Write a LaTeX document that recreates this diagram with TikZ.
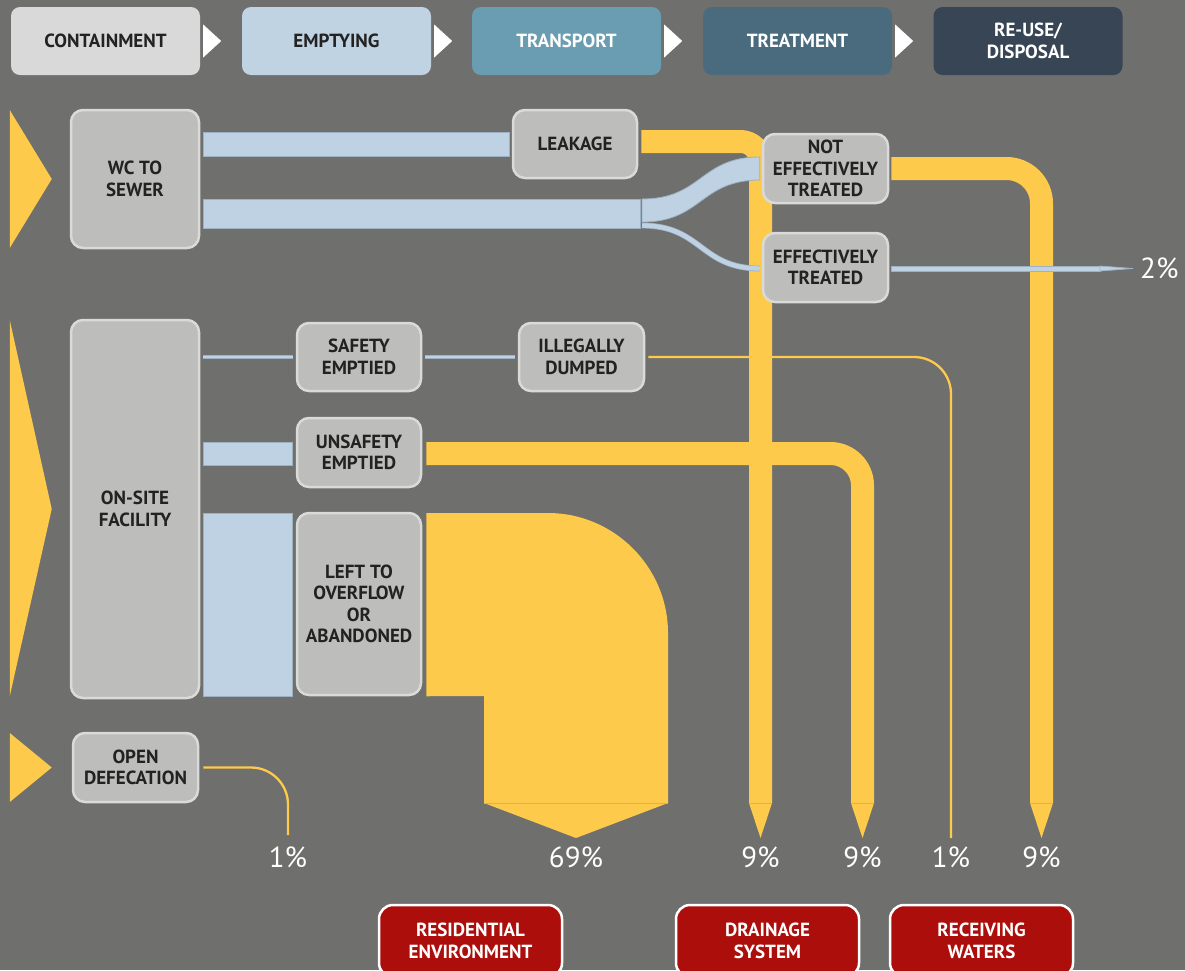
\documentclass[tikz,border=0pt]{standalone}
\usepackage{fontspec}
\setmainfont{PT Sans}
\usetikzlibrary{calc}
\definecolor{bg}{HTML}{6F6F6D}
\definecolor{boxfill}{HTML}{BDBDBB}
\definecolor{boxline}{HTML}{DADAD8}
\definecolor{txt}{HTML}{222222}
\definecolor{yel}{HTML}{FDCA4B}
\definecolor{yeldark}{HTML}{E3B340}
\definecolor{blu}{HTML}{BED2E3}
\definecolor{bluline}{HTML}{9DB1C2}
\definecolor{sinkred}{HTML}{AC0F0B}
\definecolor{hA}{HTML}{D9D9D9}
\definecolor{hB}{HTML}{BFD3E3}
\definecolor{hC}{HTML}{6A9DB1}
\definecolor{hD}{HTML}{4A6B7D}
\definecolor{hE}{HTML}{374554}
\newcommand\lbl{\fontsize{19}{21.5}\selectfont\bfseries}
\newcommand\pctf{\fontsize{29}{32}\selectfont}
\newcommand\flowhead[2]{%
  \fill[yel] ($(#1)+(-#2,0)$) -- ($(#1)+(#2,0)$) -- ($(#1)+(0,35)$) -- cycle;
  \draw[yeldark, line width=0.6pt] ($(#1)+(-#2,0)$) -- ($(#1)+(#2,0)$);}
\pgfdeclarelayer{bglayer}
\pgfdeclarelayer{flows}
\pgfsetlayers{bglayer,flows,main}
\begin{document}
\begin{tikzpicture}[x=1pt,y=-1pt,
  box/.style={draw=boxline, fill=boxfill, line width=2.5pt, rounded corners=12pt, align=center, text=txt, font=\lbl, inner sep=0pt},
  hdr/.style={rounded corners=9pt, minimum width=189pt, minimum height=68pt, align=center, font=\lbl, inner sep=0pt},
  sinkbox/.style={draw=white, fill=sinkred, line width=2.5pt, rounded corners=14pt, minimum width=183pt, minimum height=72pt, align=center, text=white, font=\lbl, inner sep=0pt},
  pct/.style={text=white, font=\pctf, inner sep=0pt},
  yband/.style={draw=yel, line width=23pt},
  ythin/.style={draw=yel, line width=2.3pt},
  bfill/.style={fill=blu, draw=bluline, line width=0.8pt},
]
\useasboundingbox (0,0) rectangle (1185,970);
\begin{pgfonlayer}{bglayer}
  \fill[bg] (0,0) rectangle (1185,970);
\end{pgfonlayer}
\begin{scope}
\clip (0,0) rectangle (1185,970);

% ---------- header ----------
\node[hdr, fill=hA, text=txt]   (h1) at (105.5,41) {CONTAINMENT};
\node[hdr, fill=hB, text=txt]   (h2) at (336.5,41) {EMPTYING};
\node[hdr, fill=hC, text=white] (h3) at (566.5,41) {TRANSPORT};
\node[hdr, fill=hD, text=white] (h4) at (797.5,41) {TREATMENT};
\node[hdr, fill=hE, text=white] (h5) at (1028,41) {RE-USE/\\DISPOSAL};
\foreach \h in {h1,h2,h3,h4}{
  \fill[white] ($(\h.east)+(3,-16.5)$) -- ($(\h.east)+(21,0)$) -- ($(\h.east)+(3,16.5)$) -- cycle;
}

% ---------- nodes ----------
\node[box, minimum width=128pt, minimum height=138pt] (wc) at (135,179) {WC TO\\SEWER};
\node[box, minimum width=128pt, minimum height=378pt] (onsite) at (135,509) {ON-SITE\\FACILITY};
\node[box, minimum width=125pt, minimum height=69pt] (open) at (135.5,767.5) {OPEN\\DEFECATION};
\node[box, minimum width=124pt, minimum height=68pt] (leak) at (575,144) {LEAKAGE};
\node[box, minimum width=125pt, minimum height=69pt] (notet) at (825.5,168.5) {NOT\\EFFECTIVELY\\TREATED};
\node[box, minimum width=125pt, minimum height=69pt] (et) at (825.5,267.5) {EFFECTIVELY\\TREATED};
\node[box, minimum width=124pt, minimum height=68pt] (safe) at (359,357) {SAFETY\\EMPTIED};
\node[box, minimum width=125pt, minimum height=68pt] (illeg) at (581.5,357) {ILLEGALLY\\DUMPED};
\node[box, minimum width=124pt, minimum height=69pt] (unsafe) at (359,452.5) {UNSAFETY\\EMPTIED};
\node[box, minimum width=124pt, minimum height=182pt] (left) at (359,604) {LEFT TO\\OVERFLOW\\OR\\ABANDONED};

% ---------- sinks ----------
\node[sinkbox] (res) at (470.5,941) {RESIDENTIAL\\ENVIRONMENT};
\node[sinkbox] (drain) at (767.5,941) {DRAINAGE\\SYSTEM};
\node[sinkbox] (recv) at (981.5,941) {RECEIVING\\WATERS};

% ---------- flow end points ----------
\coordinate (d0) at (288,835);
\coordinate (d1) at (760.5,803);
\coordinate (d2) at (862.5,803);
\coordinate (d3) at (951,838);
\coordinate (d4) at (1041.5,803);
\coordinate (d5) at (576,838);
\coordinate (tip2) at (1133,268.5);

% ---------- percentages ----------
\node[pct] (p0) at (288,857) {1\%};
\node[pct] (p5) at (576,857) {69\%};
\node[pct] (p1) at (760.5,857) {9\%};
\node[pct] (p2) at (862.5,857) {9\%};
\node[pct] (p3) at (951,857) {1\%};
\node[pct] (p4) at (1041.5,857) {9\%};
\node[pct, anchor=west] (p6) at (1140,268.5) {2\%};

\begin{pgfonlayer}{flows}
  % left input triangles
  \fill[yel] ($(wc.north west)+(-60,1.25)$) -- ($(wc.west)+(-18,0)$) -- ($(wc.south west)+(-60,-1.25)$) -- cycle;
  \fill[yel] ($(onsite.north west)+(-60,1.25)$) -- ($(onsite.west)+(-18,0)$) -- ($(onsite.south west)+(-60,-3)$) -- cycle;
  \fill[yel] ($(open.north west)+(-62,1.25)$) -- ($(open.west)+(-20,0)$) -- ($(open.south west)+(-62,-1.25)$) -- cycle;

  % ----- yellow flows -----
  \draw[yband, rounded corners=20pt] ($(leak.east)+(3,-2.5)$) -| (d1);
  \flowhead{d1}{11.5}
  \draw[yband, rounded corners=35pt] ($(notet.east)+(2,0)$) -| (d4);
  \flowhead{d4}{11.5}
  \draw[yband, rounded corners=32pt] ($(unsafe.east)+(4,1)$) -| (d2);
  \flowhead{d2}{11.5}
  \draw[ythin, rounded corners=37pt] ($(illeg.east)+(3,0)$) -| (d3);
  \draw[ythin, rounded corners=37pt] ($(open.east)+(4,0)$) -| (d0);
  \fill[yel] ($(left.north east)+(4,1.25)$) -- (548,513) .. controls (614,513) and (668,567) .. (668,633)
     -- (668,803) -- (d5) -- (484,803) -- (484,696) -- ($(left.south east)+(4,0)$) -- cycle;
  \draw[yeldark, line width=0.6pt] (484,803) -- (668,803);

  % ----- blue flows -----
  \filldraw[bfill] ($(wc.east)+(3,-47)$) rectangle ($(leak.west)+(-2,12)$);
  \filldraw[bfill] ($(wc.east)+(3,20)$) rectangle (640,228);
  \coordinate (split) at (642,199);
  \filldraw[bfill] (split) .. controls (702,199) and (700,157) .. ($(notet.west)+(-2,-11.5)$)
     -- ($(notet.west)+(-2,11.5)$) .. controls (700,180) and (702,222) .. (642,222) -- cycle;
  \draw[bluline, line width=5.8pt] (642,225.5) .. controls (702,225.5) and (700,268.5) .. ($(et.west)+(-2,1)$);
  \draw[blu, line width=4.4pt] (642,225.5) .. controls (702,225.5) and (700,268.5) .. ($(et.west)+(-2,1)$);
  \filldraw[bfill] ($(et.east)+(2,-1.5)$) rectangle (1100,271);
  \filldraw[bfill] (1100,266) -- (tip2) -- (1100,271) -- cycle;
  \draw[bluline, line width=3.4pt] ([xshift=3pt]onsite.east |- safe.west) -- ([xshift=-3pt]safe.west);
  \draw[blu, line width=2.4pt] ([xshift=3pt]onsite.east |- safe.west) -- ([xshift=-3pt]safe.west);
  \draw[bluline, line width=3.4pt] ([xshift=3pt]safe.east) -- ([xshift=-3pt]illeg.west);
  \draw[blu, line width=2.4pt] ([xshift=3pt]safe.east) -- ([xshift=-3pt]illeg.west);
  \filldraw[bfill] (203,442) rectangle ($(unsafe.west |- 0,465)+(-3,0)$);
  \filldraw[bfill] (203,513) rectangle ($(left.south west)+(-3,0)$);
\end{pgfonlayer}
\end{scope}
\end{tikzpicture}
\end{document}
